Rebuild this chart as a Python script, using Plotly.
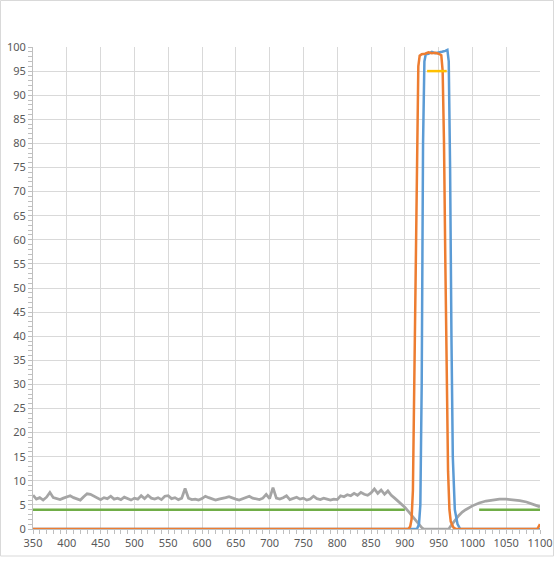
import plotly.graph_objects as go

# ---- data ----
gray_x = list(range(350, 885, 5)) + [885, 890, 895, 900, 905, 910, 915, 920, 925, 928,
                                     965, 970, 975, 980, 985, 990, 1000, 1010, 1020, 1030,
                                     1040, 1050, 1060, 1070, 1080, 1090, 1100]
gray_y = [7.0, 6.2, 6.5, 6.0, 6.6, 7.6, 6.5, 6.3, 6.1, 6.4,
          6.6, 6.9, 6.5, 6.2, 6.0, 6.7, 7.3, 7.2, 6.8, 6.4,
          6.1, 6.5, 6.3, 6.8, 6.2, 6.4, 6.1, 6.6, 6.3, 6.0,
          6.4, 6.2, 6.9, 6.3, 7.0, 6.4, 6.2, 6.5, 6.1, 6.8,
          6.9, 6.3, 6.5, 6.1, 6.4, 8.4, 6.4, 6.1, 6.2, 6.0,
          6.3, 6.8, 6.5, 6.2, 6.0, 6.2, 6.3, 6.5, 6.7, 6.4,
          6.2, 6.0, 6.3, 6.6, 6.8, 6.4, 6.2, 6.1, 6.4, 7.2,
          6.3, 8.6, 6.4, 6.2, 6.5, 6.9, 6.1, 6.3, 6.6, 6.2,
          6.4, 6.0, 6.2, 6.8, 6.3, 6.1, 6.4, 6.2, 6.0, 6.2,
          6.1, 6.9, 6.7, 7.1, 6.9, 7.4, 7.0, 7.6, 7.2, 7.0,
          7.5, 8.3, 7.4, 8.1, 7.2, 7.9, 7.0,
          6.4, 5.8, 5.2, 4.5, 3.7, 2.8, 1.9, 1.0, 0.3, 0.0,
          0.0, 1.0, 2.0, 2.8, 3.5, 4.0, 4.8, 5.4, 5.8, 6.0,
          6.2, 6.2, 6.1, 5.9, 5.6, 5.1, 4.6]

green_x = [350, 900, None, 1010, 1100]
green_y = [4, 4, None, 4, 4]

blue_x = [350, 918, 921, 923, 925, 927, 929, 931, 935, 940, 945, 950, 955, 960, 963,
          965, 967, 969, 971, 974, 978, 982, 1100]
blue_y = [0, 0, 1, 5, 30, 80, 97, 98.5, 98.6, 99.0, 98.7, 98.8, 99.0, 99.2, 99.4,
          97, 75, 40, 15, 4, 1, 0, 0]

orange_x = [350, 905, 908, 910, 912, 914, 916, 918, 920, 922, 925, 930, 935, 940, 945,
            950, 954, 956, 958, 960, 962, 964, 966, 968, 972, 976, 1096, 1100]
orange_y = [0, 0, 0.5, 2, 8, 30, 60, 85, 96, 98.2, 98.5, 98.6, 98.9, 98.7, 98.8,
            98.6, 98.3, 95, 80, 55, 30, 12, 4, 1.5, 0.3, 0, 0, 1]

yellow_x = [933, 962]
yellow_y = [95, 95]

x_ticks = list(range(350, 1101, 50))
y_ticks = list(range(0, 101, 5))

# ---- figure ----
fig = go.Figure()
fig.add_trace(go.Scatter(x=gray_x, y=gray_y, mode="lines",
                         line=dict(color="#a5a5a5", width=2.75), hoverinfo="skip"))
fig.add_trace(go.Scatter(x=green_x, y=green_y, mode="lines",
                         line=dict(color="#70ad47", width=2.5), hoverinfo="skip"))
fig.add_trace(go.Scatter(x=blue_x, y=blue_y, mode="lines",
                         line=dict(color="#5b9bd5", width=2.5), hoverinfo="skip"))
fig.add_trace(go.Scatter(x=orange_x, y=orange_y, mode="lines",
                         line=dict(color="#ed7d31", width=2.5), hoverinfo="skip"))
fig.add_trace(go.Scatter(x=yellow_x, y=yellow_y, mode="lines",
                         line=dict(color="#ffc000", width=2.5), hoverinfo="skip"))

axis_font = dict(family="Noto Sans, sans-serif", size=11, color="#595959")
fig.update_xaxes(range=[350, 1100], tickvals=x_ticks, showgrid=True, gridcolor="#d9d9d9",
                 gridwidth=1, showline=True, linecolor="#bfbfbf", linewidth=1,
                 ticks="outside", ticklen=4, tickcolor="#bfbfbf", tickfont=axis_font,
                 zeroline=False, automargin=False,
                 minor=dict(dtick=10, ticks="outside", ticklen=4, tickcolor="#bfbfbf",
                            showgrid=False))
fig.update_yaxes(range=[0, 100], tickvals=y_ticks, showgrid=True, gridcolor="#d9d9d9",
                 gridwidth=1, showline=True, linecolor="#bfbfbf", linewidth=1,
                 ticks="outside", ticklen=4, tickcolor="#bfbfbf", tickfont=axis_font,
                 zeroline=False, automargin=False,
                 minor=dict(dtick=1, ticks="outside", ticklen=4, tickcolor="#bfbfbf",
                            showgrid=False))

L, R, T, B = 33, 15, 47, 34
W, H = 555, 563
pw, ph = W - L - R, H - T - B
fig.add_shape(type="rect", xref="paper", yref="paper",
              x0=(0.5 - L) / pw, x1=(553.5 - L) / pw,
              y0=(H - B - 556) / ph, y1=(H - B - 0.5) / ph,
              line=dict(color="#d9d9d9", width=1), layer="below")

fig.update_layout(width=W, height=H, margin=dict(l=L, r=R, t=T, b=B),
                  plot_bgcolor="white", paper_bgcolor="white", showlegend=False)

fig.write_html("out.html", config={"displayModeBar": False},
               post_script="document.body.style.margin='0';document.body.style.overflow='hidden';")
